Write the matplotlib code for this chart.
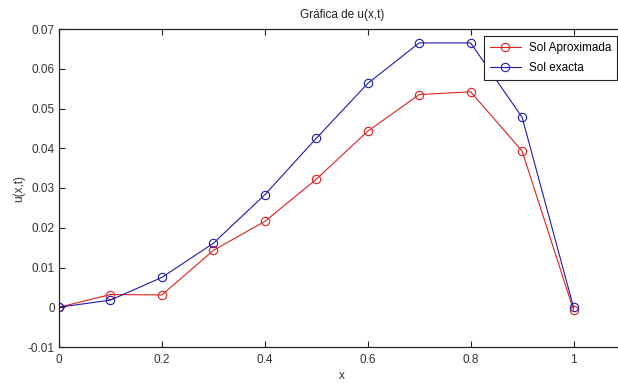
import numpy as np
import matplotlib
matplotlib.use('Agg')
from matplotlib import pyplot as plt

''' matplotlib config '''
plt.rcParams['font.family'] = ['Liberation Sans', 'DejaVu Sans']
plt.rcParams['font.size'] = 8.5

x = [0, 0.1, 0.2, 0.3, 0.4, 0.5, 0.6, 0.7, 0.8, 0.9, 1.0]
u_aprox = [0, 0.0032, 0.0031, 0.0143, 0.0216, 0.0322, 0.0443, 0.0535, 0.0542, 0.0393, -0.0007]
u_exacta = [0, 0.0018, 0.0075, 0.0161, 0.0283, 0.0425, 0.0563, 0.0665, 0.0665, 0.0478, 0.0]

xticks = [0, 0.2, 0.4, 0.6, 0.8, 1]
xticklabels = ['0', '0.2', '0.4', '0.6', '0.8', '1']
yticks = [-0.01, 0, 0.01, 0.02, 0.03, 0.04, 0.05, 0.06, 0.07]
yticklabels = ['-0.01', '0', '0.01', '0.02', '0.03', '0.04', '0.05', '0.06', '0.07']

fig = plt.figure(figsize=(6.18, 3.83), dpi=100)
# right side of the axes is cut off in the reference
ax = fig.add_axes([59/618, 36/383, 566/618, 318/383])

ax.plot(x, u_aprox, '-o', color='#e02020', lw=0.8, ms=6, mfc='none', mew=0.8, label='Sol Aproximada')
ax.plot(x, u_exacta, '-o', color='#1c1cb0', lw=0.8, ms=6, mfc='none', mew=0.8, label='Sol exacta')

ax.set_xlim(0, 1.1)
ax.set_ylim(-0.01, 0.07)
ax.set_xticks(xticks)
ax.set_xticklabels(xticklabels)
ax.set_yticks(yticks)
ax.set_yticklabels(yticklabels)
ax.tick_params(direction='in', top=True, right=True, length=4, width=0.8, colors='#222222', labelcolor='#333333', pad=3)
ax.tick_params(axis='x', pad=5)
for s in ax.spines.values():
  s.set_color('#222222')
  s.set_linewidth(0.9)

ax.set_title('Gráfica de u(x,t)', fontsize=8.5, color='#222222', pad=8)
ax.set_xlabel('x', color='#333333', labelpad=3)
ax.set_ylabel('u(x,t)', color='#333333', labelpad=2)

leg = ax.legend(loc='upper left', bbox_to_anchor=((484-59)/566, 0.978), fancybox=False, framealpha=1,
  edgecolor='#222222', borderpad=0.5, handlelength=2.6, labelspacing=0.7, handletextpad=0.7, borderaxespad=0)
leg.get_frame().set_linewidth(0.8)

fig.savefig('out.png', dpi=100, facecolor='white')

# EOF
